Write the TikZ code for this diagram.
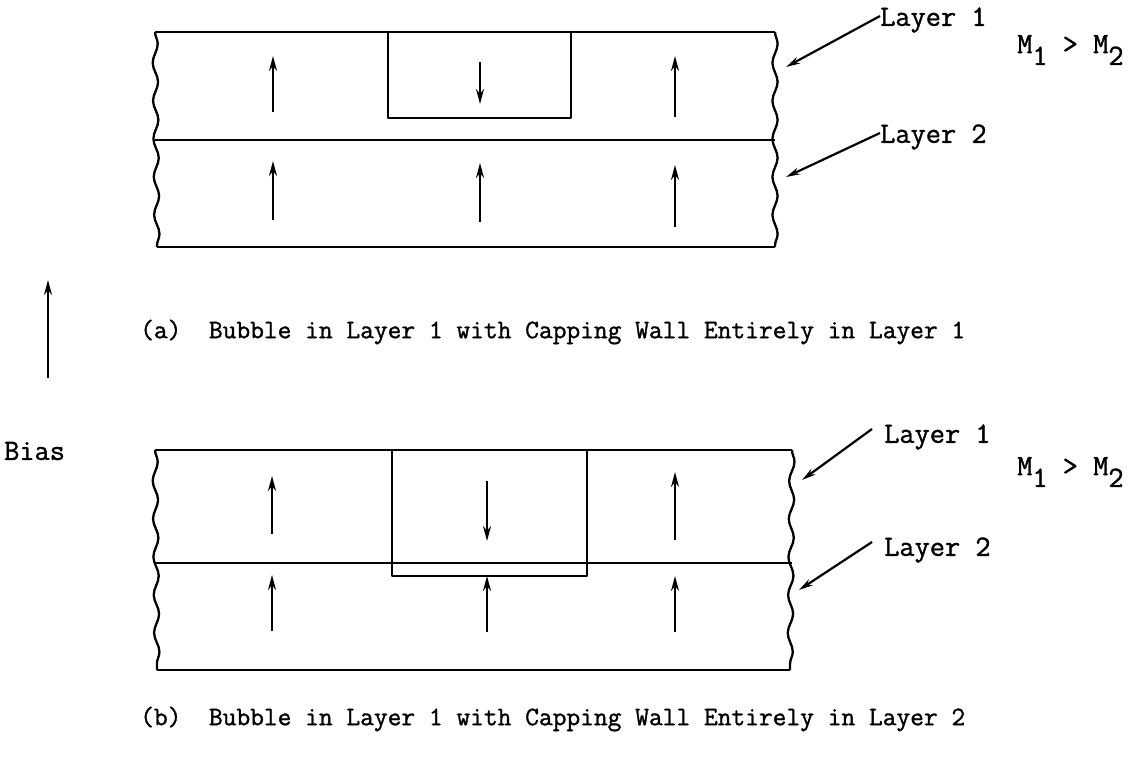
\documentclass[tikz,border=0pt]{standalone}
\usepackage{fontspec}
\setmonofont{Latin Modern Mono}[FakeBold=1.2]
\usetikzlibrary{arrows.meta,decorations.pathmorphing}
\begin{document}
\begin{tikzpicture}[x=1pt,y=-1pt,
  frame/.style={line width=2.6pt,line join=round},
  wavy/.style={line width=2.3pt,decorate,decoration={snake,amplitude=2.6pt,segment length=38pt}},
  mag/.style={line width=2.2pt,-{Stealth[length=15pt,width=8pt]}},
  ptr/.style={line width=2.2pt,-{Stealth[length=14pt,width=7pt]}},
  lbl/.style={font=\fontsize{29.5}{32}\selectfont\ttfamily,inner sep=0pt,anchor=west},
  captext/.style={font=\fontsize{26.7}{30}\selectfont\ttfamily,inner sep=0pt,anchor=west}]
\useasboundingbox (0,0) rectangle (1142,776);
% ---------- (a) ----------
\draw[frame] (155,32) -- (775,32);
\draw[frame] (155,140) -- (775,140);
\draw[frame] (157,247) -- (775,247);
\draw[wavy] (155,32) -- (157,247);
\draw[wavy] (775,32) -- (775,247);
\draw[frame] (388,32) -- (388,118) -- (571,118) -- (571,32);
\coordinate (a1s) at (273,112); \coordinate (a1e) at (273,56);
\coordinate (a2s) at (480,62);  \coordinate (a2e) at (480,104);
\coordinate (a3s) at (675,117); \coordinate (a3e) at (675,56);
\coordinate (a4s) at (273,220); \coordinate (a4e) at (273,161);
\coordinate (a5s) at (480,222); \coordinate (a5e) at (480,163);
\coordinate (a6s) at (675,227); \coordinate (a6e) at (675,165);
\foreach \i in {1,...,6} \draw[mag] (a\i s) -- (a\i e);
\node[lbl] (la1) at (880,20) {Layer 1};
\node[lbl] (la2) at (880,137) {Layer 2};
\coordinate (pa1) at (786,67);
\coordinate (pa2) at (786,177);
\draw[ptr] ([yshift=4pt]la1.west) -- (pa1);
\draw[ptr] ([yshift=4pt]la2.west) -- (pa2);
\node[lbl] (ma) at (1017,50) {M\raisebox{-0.4em}{1} > M\raisebox{-0.4em}{2}};
\node[captext] (capa) at (140,332) {(a)\ \ Bubble in Layer 1 with Capping Wall Entirely in Layer 1};
% ---------- Bias ----------
\coordinate (bs) at (48,378); \coordinate (be) at (48,280);
\draw[mag] (bs) -- (be);
\node[lbl] (bias) at (4,451) {Bias};
% ---------- (b) ----------
\draw[frame] (155,450) -- (792,450);
\draw[frame] (155,563) -- (792,563);
\draw[frame] (157,670) -- (790,670);
\draw[wavy] (155,450) -- (157,670);
\draw[wavy] (792,450) -- (790,670);
\draw[frame] (392,450) -- (392,576) -- (587,576) -- (587,450);
\coordinate (b1s) at (272,534); \coordinate (b1e) at (272,476);
\coordinate (b2s) at (487,481); \coordinate (b2e) at (487,541);
\coordinate (b3s) at (675,540); \coordinate (b3e) at (675,472);
\coordinate (b4s) at (272,631); \coordinate (b4e) at (272,575);
\coordinate (b5s) at (487,632); \coordinate (b5e) at (487,576);
\coordinate (b6s) at (675,632); \coordinate (b6e) at (675,576);
\foreach \i in {1,...,6} \draw[mag] (b\i s) -- (b\i e);
\node[lbl] (lb1) at (884,437) {Layer 1};
\node[lbl] (lb2) at (884,550) {Layer 2};
\coordinate (pb1) at (802,480);
\coordinate (pb2) at (799,590);
\draw[ptr] ([xshift=-12pt,yshift=8pt]lb1.west) -- (pb1);
\draw[ptr] ([xshift=-12pt,yshift=8pt]lb2.west) -- (pb2);
\node[lbl] (mb) at (1017,472) {M\raisebox{-0.4em}{1} > M\raisebox{-0.4em}{2}};
\node[captext] (capb) at (140,719) {(b)\ \ Bubble in Layer 1 with Capping Wall Entirely in Layer 2};
\end{tikzpicture}
\end{document}
